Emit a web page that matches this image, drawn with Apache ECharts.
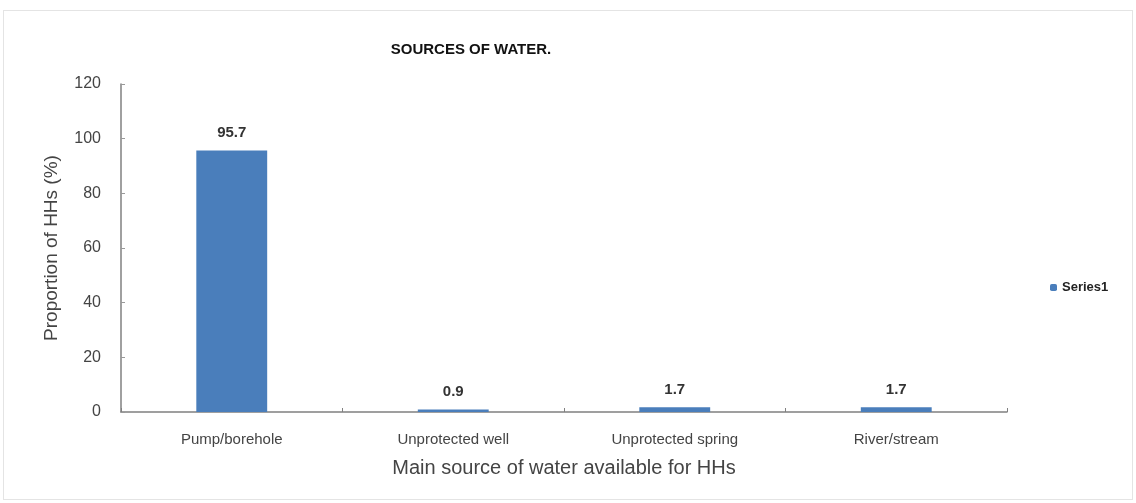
<!DOCTYPE html>
<html lang="en">
  <head>
    <meta charset="UTF-8" />
    <title>Sources of water</title>
    <script src="https://cdnjs.cloudflare.com/ajax/libs/echarts/6.0.0/echarts.min.js"></script>
    <style>
      html, body { margin: 0; padding: 0; background: #fff; }
      #main {
        position: absolute;
        left: 3px; top: 10px;
        width: 1130px; height: 490px;
        border: 1px solid #e4e4e4;
        box-sizing: border-box;
      }
    </style>
  </head>
  <body>
    <div id="main"></div>
    <script type="text/javascript">
      // data
      var categories = ["Pump/borehole", "Unprotected well", "Unprotected spring", "River/stream"];
      var values = [95.7, 0.9, 1.7, 1.7];
      var yTicks = [0, 20, 40, 60, 80, 100, 120];

      var font = "'Liberation Sans', Arial, sans-serif";
      var myChart = echarts.init(document.getElementById("main"));

      var option = {
        textStyle: { fontFamily: font },
        title: {
          text: "SOURCES OF WATER.",
          left: 462, top: 26, textAlign: "center",
          textStyle: { fontSize: 15, fontWeight: "bold", color: "#111", fontFamily: font }
        },
        legend: {
          data: ["Series1"],
          orient: "vertical",
          left: 1041, top: 265,
          itemWidth: 7, itemHeight: 7, itemGap: 4,
          textStyle: { fontSize: 13, fontWeight: "bold", color: "#222" }
        },
        grid: { left: 117, right: 125, top: 73, bottom: 87 },
        xAxis: {
          type: "category",
          data: categories,
          name: "Main source of water available for HHs",
          nameLocation: "middle",
          nameGap: 46,
          nameTextStyle: { fontSize: 20, color: "#444" },
          axisLine: { lineStyle: { color: "#808080", width: 1.5 } },
          axisTick: { show: true, inside: true, length: 4, lineStyle: { color: "#808080" } },
          axisLabel: { fontSize: 15, color: "#444", margin: 20 }
        },
        yAxis: {
          type: "value",
          min: yTicks[0], max: yTicks[yTicks.length - 1], interval: 20,
          name: "Proportion of HHs (%)",
          nameLocation: "middle",
          nameGap: 60,
          nameTextStyle: { fontSize: 19, color: "#444" },
          axisLine: { show: true, lineStyle: { color: "#808080", width: 1.5 } },
          axisTick: { show: true, inside: true, length: 4, lineStyle: { color: "#999" } },
          axisLabel: { fontSize: 16, color: "#444", margin: 20 },
          splitLine: { show: false }
        },
        series: [
          {
            name: "Series1",
            type: "bar",
            data: values,
            barWidth: "32%",
            itemStyle: { color: "#4a7ebb" },
            label: {
              show: true, position: "top", distance: 10,
              fontSize: 15, fontWeight: "bold", color: "#333", fontFamily: font
            }
          }
        ]
      };
      myChart.setOption(option);
    </script>
  </body>
</html>
